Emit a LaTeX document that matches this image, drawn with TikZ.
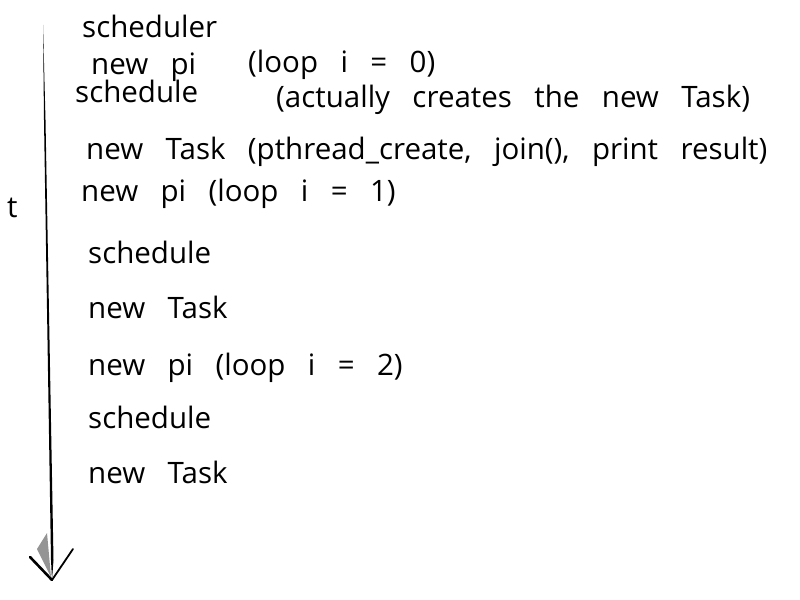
\documentclass[tikz,border=0pt]{standalone}
\usepackage{fontspec}
\setmainfont{Open Sans}
\newcommand\lblfont{\fontsize{29.5bp}{34bp}\selectfont}
\tikzset{
  lbl/.style={anchor=base west, inner sep=0pt, font=\lblfont, execute at begin node={\spaceskip=0.76em\relax}},
}
\begin{document}
\begin{tikzpicture}[x=1bp,y=-1bp]
\useasboundingbox (0,0) rectangle (800,600);
% time axis
\coordinate (top) at (43,25);
\coordinate (tip) at (52,580);
\fill (top) -- (44,120) -- (51,560) -- (tip) -- (53.5,560) -- (45.5,120) -- cycle;
\fill[black!60, opacity=0.7] (37,549) -- (47,533) -- (51,577) -- cycle;
\draw[line width=2.6pt, line cap=round] (30,557) -- (tip);
\draw[line width=1.8pt, line cap=round] (tip) -- (73,549);
\node[lbl] (t) at (7,218) {t};
% labels
\node[lbl] (scheduler) at (82,38) {scheduler};
\node[lbl] (newpi0) at (91,75) {new pi};
\node[lbl] (loop0) at (248,73) {(loop i = 0)};
\node[lbl] (sched0) at (75,103) {schedule};
\node[lbl] (actually) at (276,108) {(actually creates the new Task)};
\node[lbl] (task0) at (86,160) {new Task (pthread\_create, join(), print result)};
\node[lbl] (newpi1) at (81,202) {new pi (loop i = 1)};
\node[lbl] (sched1) at (88,263) {schedule};
\node[lbl] (task1) at (88,318) {new Task};
\node[lbl] (newpi2) at (88,375) {new pi (loop i = 2)};
\node[lbl] (sched2) at (88,428) {schedule};
\node[lbl] (task2) at (88,483) {new Task};
\end{tikzpicture}
\end{document}
